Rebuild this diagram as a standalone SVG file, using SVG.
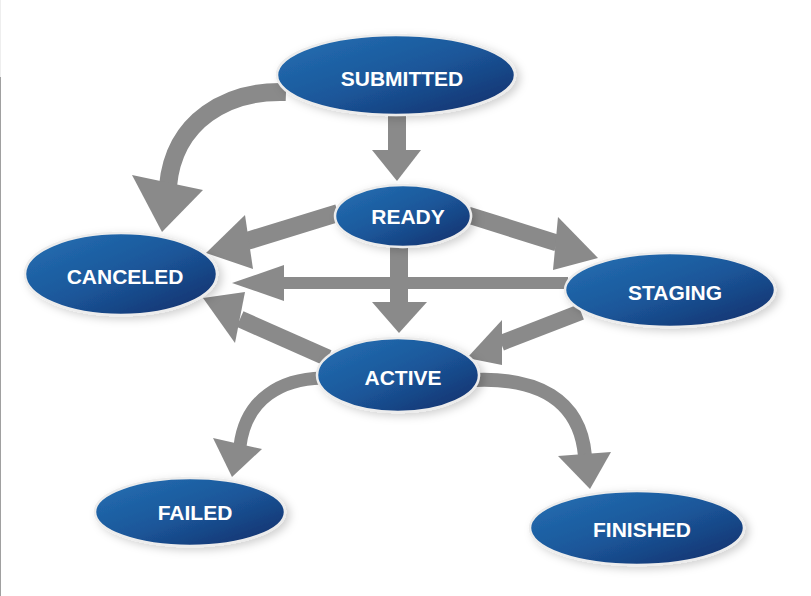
<svg xmlns="http://www.w3.org/2000/svg" width="811" height="596" viewBox="0 0 811 596">
  <defs>
    <linearGradient id="nodeFill" x1="0" y1="0" x2="1" y2="1">
      <stop offset="0" stop-color="#2470b4"/>
      <stop offset="0.5" stop-color="#1b579a"/>
      <stop offset="1" stop-color="#132c68"/>
    </linearGradient>
    <filter id="shadow" x="-20%" y="-30%" width="140%" height="160%">
      <feDropShadow dx="4" dy="3" stdDeviation="4" flood-color="#000" flood-opacity="0.18"/>
    </filter>
  </defs>
  <style>
    .node ellipse { fill: url(#nodeFill); stroke: #ececec; stroke-width: 2.5; filter: url(#shadow); }
    .node text { font-family: "Liberation Sans", Arial, sans-serif; font-weight: bold; font-size: 21px; fill: #ffffff; text-anchor: middle; }
    .shaft { fill: none; stroke: #8a8a8a; stroke-linecap: butt; }
    .head { fill: #8a8a8a; stroke: none; }
  </style>
  <rect x="0" y="0" width="811" height="596" fill="#ffffff"/>
  <line x1="0.5" y1="0" x2="0.5" y2="77" stroke="#eeeeee" stroke-width="1"/>
  <line x1="0.5" y1="77" x2="0.5" y2="596" stroke="#a0a0a0" stroke-width="1"/>

  <g id="connectors">
    <!-- SUBMITTED -> CANCELED -->
    <path class="shaft" d="M286,92 C228,90 174,120 168,186" stroke-width="18"/>
    <polygon class="head" points="132,175 203,190 162,232"/>
    <!-- SUBMITTED -> READY -->
    <line class="shaft" x1="397" y1="112" x2="397" y2="151" stroke-width="18"/>
    <polygon class="head" points="372,150 421,150 397,181"/>
    <!-- READY -> CANCELED -->
    <line class="shaft" x1="338" y1="213" x2="247" y2="241" stroke-width="18"/>
    <polygon class="head" points="245,215 253,269 206,253"/>
    <!-- READY -> STAGING -->
    <line class="shaft" x1="468" y1="215" x2="557" y2="243" stroke-width="17"/>
    <polygon class="head" points="558,217 553,270 598,258"/>
    <!-- STAGING -> CANCELED -->
    <line class="shaft" x1="282" y1="283" x2="568" y2="283" stroke-width="12"/>
    <polygon class="head" points="284,265 284,301 232,283"/>
    <!-- READY -> ACTIVE -->
    <line class="shaft" x1="399" y1="244" x2="399" y2="303" stroke-width="18"/>
    <polygon class="head" points="372,302 427,302 399,333"/>
    <!-- STAGING -> ACTIVE -->
    <line class="shaft" x1="581" y1="312" x2="501" y2="343" stroke-width="16"/>
    <polygon class="head" points="502,320 502,365 467,358"/>
    <!-- ACTIVE -> CANCELED -->
    <line class="shaft" x1="328" y1="358" x2="240" y2="319" stroke-width="17"/>
    <polygon class="head" points="245,292 235,343 203,298"/>
    <!-- ACTIVE -> FAILED -->
    <path class="shaft" d="M322,378 C282,379 246,398 240,446" stroke-width="13"/>
    <polygon class="head" points="213,438 262,449 232,477"/>
    <!-- ACTIVE -> FINISHED -->
    <path class="shaft" d="M476,380 C535,378 580,398 585,456" stroke-width="14"/>
    <polygon class="head" points="558,456 611,452 590,489"/>
  </g>

  <g id="submitted" class="node">
    <ellipse cx="396" cy="75" rx="119" ry="40"/>
    <text x="402" y="86">SUBMITTED</text>
  </g>
  <g id="ready" class="node">
    <ellipse cx="403" cy="216" rx="68" ry="31"/>
    <text x="408" y="224">READY</text>
  </g>
  <g id="canceled" class="node">
    <ellipse cx="121" cy="274" rx="96" ry="41"/>
    <text x="125" y="284">CANCELED</text>
  </g>
  <g id="staging" class="node">
    <ellipse cx="670" cy="290" rx="105" ry="37"/>
    <text x="675" y="300">STAGING</text>
  </g>
  <g id="active" class="node">
    <ellipse cx="398" cy="375" rx="81" ry="37"/>
    <text x="403" y="385">ACTIVE</text>
  </g>
  <g id="failed" class="node">
    <ellipse cx="190" cy="512" rx="95" ry="34"/>
    <text x="195" y="520">FAILED</text>
  </g>
  <g id="finished" class="node">
    <ellipse cx="637" cy="528" rx="107" ry="37"/>
    <text x="642" y="537">FINISHED</text>
  </g>
</svg>
